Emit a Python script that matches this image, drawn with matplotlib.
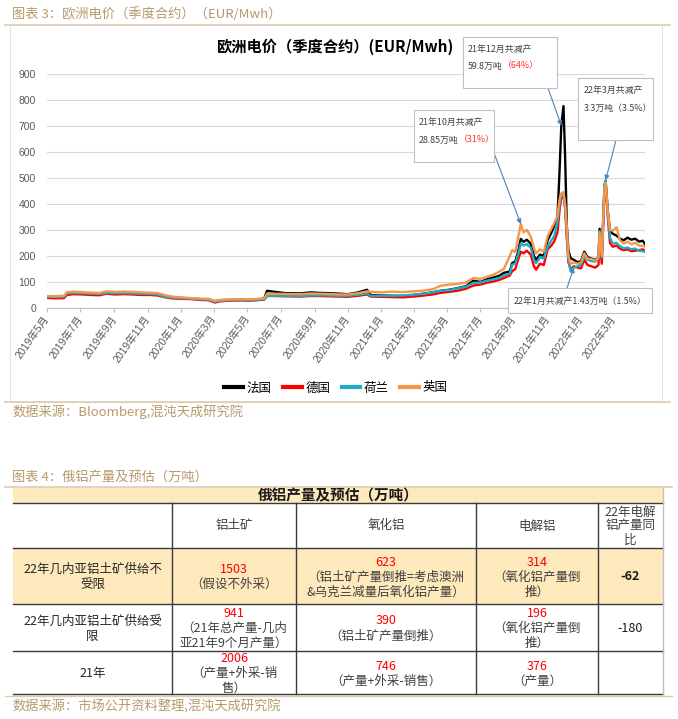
import matplotlib
matplotlib.use('Agg')
import matplotlib.pyplot as plt
import matplotlib.dates as mdates
from matplotlib.patches import Rectangle
from matplotlib.lines import Line2D
import pandas as pd

plt.rcParams['font.family'] = ['Noto Sans CJK SC', 'DejaVu Sans']

# ---------------- chart data (EUR/MWh) ----------------
dates = ['2019-05-01', '2019-05-15', '2019-06-01', '2019-06-06', '2019-06-18', '2019-07-05',
         '2019-07-20', '2019-08-05', '2019-08-18', '2019-09-01', '2019-09-18', '2019-10-05',
         '2019-10-20', '2019-11-05', '2019-11-20', '2019-12-01', '2019-12-15', '2020-01-05',
         '2020-01-20', '2020-02-05', '2020-02-20', '2020-03-03', '2020-03-13', '2020-04-01',
         '2020-04-20', '2020-05-05', '2020-05-20', '2020-06-01', '2020-06-06', '2020-06-20',
         '2020-07-10', '2020-08-06', '2020-08-25', '2020-09-10', '2020-09-28', '2020-10-15',
         '2020-11-01', '2020-11-20', '2020-12-06', '2020-12-12', '2021-01-01', '2021-01-20',
         '2021-02-10', '2021-03-01', '2021-03-20', '2021-04-05', '2021-04-19', '2021-05-05',
         '2021-05-20', '2021-06-05', '2021-06-18', '2021-07-01', '2021-07-13', '2021-07-25',
         '2021-08-05', '2021-08-13', '2021-08-24', '2021-08-28', '2021-09-03', '2021-09-08',
         '2021-09-13', '2021-09-18', '2021-09-24', '2021-10-01', '2021-10-07', '2021-10-11',
         '2021-10-18', '2021-10-25', '2021-11-01', '2021-11-08', '2021-11-13', '2021-11-19',
         '2021-11-23', '2021-11-26', '2021-11-30', '2021-12-03', '2021-12-06', '2021-12-09',
         '2021-12-13', '2021-12-19', '2021-12-26', '2022-01-01', '2022-01-07', '2022-01-13',
         '2022-01-20', '2022-01-27', '2022-02-02', '2022-02-04', '2022-02-08', '2022-02-13',
         '2022-02-15', '2022-02-19', '2022-02-23', '2022-02-28', '2022-03-07', '2022-03-13',
         '2022-03-20', '2022-03-27', '2022-04-03', '2022-04-10', '2022-04-17', '2022-04-24',
         '2022-04-28']
france = [42, 41, 42, 55, 58, 56, 54, 53, 60, 57, 58, 57, 55, 54, 52, 45, 40, 38, 37, 34, 33, 26,
          30, 31, 32, 31, 33, 36, 66, 62, 57, 56, 60, 58, 57, 55, 53, 60, 70, 50, 48, 47, 46, 50,
          55, 60, 66, 70, 76, 84, 105, 100, 110, 117, 124, 135, 140, 172, 179, 215, 265, 254, 262,
          247, 200, 185, 205, 200, 260, 290, 315, 347, 535, 700, 775, 580, 320, 222, 191, 185, 175,
          180, 216, 195, 190, 185, 195, 304, 197, 470, 488, 372, 297, 285, 278, 266, 260, 270, 262,
          266, 255, 258, 245]
germany = [39, 37, 38, 50, 53, 52, 50, 49, 55, 52, 53, 52, 50, 50, 48, 42, 37, 35, 34, 31, 30, 21,
           26, 28, 29, 28, 30, 32, 47, 46, 45, 44, 46, 46, 45, 44, 43, 47, 52, 44, 43, 42, 41, 44,
           48, 52, 58, 62, 66, 74, 86, 90, 97, 102, 108, 115, 125, 141, 150, 185, 216, 210, 220,
           205, 160, 147, 170, 165, 225, 240, 255, 290, 380, 420, 435, 380, 270, 175, 150, 160, 155,
           152, 185, 165, 160, 155, 165, 270, 170, 455, 472, 350, 250, 235, 240, 228, 222, 225, 218,
           220, 222, 225, 220]
netherlands = [43, 42, 43, 56, 58, 57, 55, 54, 58, 57, 57, 56, 55, 54, 52, 44, 40, 37, 36, 33, 32, 24,
               28, 30, 31, 30, 31, 34, 46, 47, 47, 46, 48, 49, 48, 47, 47, 51, 56, 47, 47, 47, 48, 51,
               55, 60, 66, 69, 75, 82, 96, 98, 105, 110, 116, 125, 132, 166, 170, 205, 247, 240, 245,
               232, 185, 172, 195, 190, 235, 260, 275, 330, 400, 430, 441, 390, 297, 190, 141, 155, 160,
               166, 200, 185, 180, 178, 190, 295, 195, 475, 490, 365, 270, 247, 250, 238, 229, 232, 225,
               228, 220, 218, 215]
uk = [46, 45, 47, 60, 63, 61, 59, 58, 64, 62, 63, 62, 60, 59, 57, 50, 44, 40, 38, 36, 35, 27,
      31, 33, 34, 33, 35, 37, 55, 55, 54, 53, 56, 55, 54, 52, 52, 57, 64, 62, 60, 63, 61, 64,
      67, 72, 85, 90, 92, 98, 115, 112, 120, 128, 140, 150, 200, 222, 215, 270, 322, 290, 300,
      275, 230, 210, 225, 216, 275, 305, 325, 354, 420, 440, 445, 400, 310, 200, 170, 175, 170,
      175, 210, 190, 188, 182, 195, 290, 200, 465, 480, 370, 300, 297, 310, 260, 247, 255, 245,
      250, 240, 238, 235]
series_names = ['法国', '德国', '荷兰', '英国']
series_colors = ['#000000', '#ff0000', '#1badc5', '#f79646']
tick_months = pd.date_range('2019-05-01', '2022-03-01', freq='2MS')
tick_labels = [f'{t.year}年{t.month}月' for t in tick_months]

# ---------------- table data ----------------
table_title = '俄铝产量及预估（万吨）'
col_headers = ['', '铝土矿', '氧化铝', '电解铝', '22年电解\n铝产量同\n比']
row_labels = ['22年几内亚铝土矿供给不\n受限', '22年几内亚铝土矿供给受\n限', '21年']
bauxite = ['1503', '941', '2006']
bauxite_note = ['（假设不外采）', '（21年总产量-几内\n亚21年9个月产量）', '（产量+外采-销\n售）']
alumina = ['623', '390', '746']
alumina_note = ['（铝土矿产量倒推=考虑澳洲\n&乌克兰减量后氧化铝产量）', '（铝土矿产量倒推）', '（产量+外采-销售）']
aluminium = ['314', '196', '376']
aluminium_note = ['（氧化铝产量倒\n推）', '（氧化铝产量倒\n推）', '（产量）']
yoy = ['-62', '-180', '']

# ---------------- figure ----------------
W, H = 678, 719
fig = plt.figure(figsize=(W / 100, H / 100), dpi=100)


def fx(x):
    return x / W


def fy(y):
    return 1 - y / H


TAN = '#b8996b'
RULE = '#dccbb0'
NARROW = ['Liberation Sans Narrow', 'Liberation Sans', 'Noto Sans CJK SC']

fig.text(fx(12), fy(14), '图表 3：欧洲电价（季度合约）（EUR/Mwh）', fontsize=9.5, color=TAN,
         va='center', ha='left')
fig.add_artist(Line2D([fx(5), fx(670)], [fy(24.5), fy(24.5)], color=RULE, lw=1.2))
fig.add_artist(Rectangle((fx(10), fy(402)), (662 - 10) / W, (402 - 25) / H,
                         transform=fig.transFigure, fill=False, ec='#e3e3e3', lw=0.8))
fig.add_artist(Line2D([fx(5), fx(670)], [fy(402.5), fy(402.5)], color=RULE, lw=1.2))
fig.text(fx(335), fy(47), '欧洲电价（季度合约）(EUR/Mwh)', fontsize=11, fontweight='bold',
         ha='center', va='center', color='#000000')

ax = fig.add_axes([fx(47), fy(308), (645 - 47) / W, (308 - 73.5) / H])
d = pd.to_datetime(dates)
for vals, col, lab in zip([france, germany, netherlands, uk], series_colors, series_names):
    ax.plot(d, vals, color=col, lw=1.7, label=lab, solid_joinstyle='round')
ax.set_xlim(pd.Timestamp('2019-05-01'), pd.Timestamp('2022-04-28'))
ax.set_ylim(0, 900)
ax.set_yticks(range(0, 901, 100))
ax.grid(axis='y', color='#d9d9d9', lw=0.8)
ax.set_axisbelow(True)
for s in ['top', 'right', 'left']:
    ax.spines[s].set_visible(False)
ax.spines['bottom'].set_color('#bfbfbf')
ax.tick_params(axis='y', length=0, pad=8, labelsize=7.5, labelcolor='#595959')
ax.set_xticks(tick_months)
ax.set_xticklabels(tick_labels)
ax.tick_params(axis='x', direction='out', length=3, color='#bfbfbf', pad=3,
               labelsize=7.5, labelcolor='#595959')
for lbl in ax.get_xticklabels():
    lbl.set_rotation(55)
    lbl.set_ha('right')
    lbl.set_va('center')
    lbl.set_rotation_mode('anchor')
    lbl.set_fontfamily(NARROW)
for lbl in ax.get_yticklabels():
    lbl.set_fontfamily(NARROW)

handles = [Line2D([], [], color=c, lw=3) for c in series_colors]
fig.legend(handles, series_names, loc='center', bbox_to_anchor=(fx(336), fy(388)), ncol=4,
           frameon=False, fontsize=9, handlelength=1.5, handletextpad=0.3, columnspacing=0.9)

# annotation boxes
BOXC = '#bfbfbf'
ARROWC = '#4f81bd'
boxes = [(463, 37, 557, 88), (578, 78, 653, 140), (414, 110, 494, 162), (508, 288, 652, 313)]
for x0, y0, x1, y1 in boxes:
    fig.add_artist(Rectangle((fx(x0), fy(y1)), (x1 - x0) / W, (y1 - y0) / H, transform=fig.transFigure,
                             fc='white', ec=BOXC, lw=0.8, zorder=5))

dn = mdates.date2num(d)
arrows = [((548, 88), dn[dates.index('2021-11-26')], france[dates.index('2021-11-26')]),
          ((616, 140), dn[dates.index('2022-02-15')], netherlands[dates.index('2022-02-15')]),
          ((494, 153), dn[dates.index('2021-09-13')], uk[dates.index('2021-09-13')]),
          ((567, 288), dn[dates.index('2021-12-19')], netherlands[dates.index('2021-12-19')])]
for (sx, sy), xd, yv in arrows:
    ax.annotate('', xy=(xd, yv), xycoords='data', xytext=(fx(sx), fy(sy)),
                textcoords='figure fraction', annotation_clip=False,
                arrowprops=dict(arrowstyle='-|>', color=ARROWC, lw=0.8, mutation_scale=7,
                                shrinkA=0, shrinkB=0))

ann_fs = 6.4
ann_col = '#404040'
box_texts = [
    (468, 49, '21年12月共减产', None),
    (468, 66, '59.8万吨', '（64%）'),
    (584, 90, '22年3月共减产', None),
    (584, 108, '3.3万吨（3.5%）', None),
    (419, 122, '21年10月共减产', None),
    (419, 140, '28.85万吨', '（31%）'),
    (514, 301, '22年1月共减产1.43万吨（1.5%）', None),
]
pending = []
for x, y, t, red in box_texts:
    tt = fig.text(fx(x), fy(y), t, fontsize=ann_fs, color=ann_col, ha='left', va='center', zorder=6)
    if red:
        pending.append((tt, y, red))

# ---------------- table ----------------
fig.text(fx(12), fy(477), '图表 4：俄铝产量及预估（万吨）', fontsize=9.5, color=TAN, va='center', ha='left')
fig.add_artist(Line2D([fx(5), fx(672)], [fy(486.5), fy(486.5)], color=RULE, lw=1.2))
cols = [13, 172, 296, 476, 598, 663]
rows = [488, 503, 548, 604, 651, 694]
BEIGE = '#fde9bb'
DARK = '#3a3a3a'
for (ya, yb) in [(rows[0], rows[1]), (rows[2], rows[3])]:
    fig.add_artist(Rectangle((fx(cols[0]), fy(yb)), (cols[-1] - cols[0]) / W, (yb - ya) / H,
                             transform=fig.transFigure, fc=BEIGE, ec='none', zorder=1))
for yv in rows[1:]:
    fig.add_artist(Line2D([fx(cols[0]), fx(cols[-1])], [fy(yv), fy(yv)], color=DARK, lw=1.0, zorder=2))
for xv in cols[1:-1]:
    fig.add_artist(Line2D([fx(xv), fx(xv)], [fy(rows[1]), fy(rows[-1])], color=DARK, lw=1.0, zorder=2))
fig.add_artist(Line2D([fx(cols[-1]), fx(cols[-1])], [fy(rows[0]), fy(rows[-1])], color='#bfbfbf', lw=1.0, zorder=2))
fig.add_artist(Line2D([fx(5), fx(672)], [fy(695.5), fy(695.5)], color=RULE, lw=1.0, zorder=1))

fig.text(fx((cols[0] + cols[-1]) / 2), fy(495.5), table_title, fontsize=10.5, fontweight='bold',
         ha='center', va='center', color='#1a1a1a', zorder=3)

TFS = 9
BODY = '#404040'


def cell(ci, center_y, parts, pitch=15.0):
    """parts: list of (text, color, weight); each text may contain several lines."""
    lines = []
    for t, c, w in parts:
        for ln in t.split('\n'):
            lines.append((ln, c, w))
    n = len(lines)
    xc = (cols[ci] + cols[ci + 1]) / 2
    for i, (ln, c, w) in enumerate(lines):
        yy = center_y + (i - (n - 1) / 2) * pitch
        fig.text(fx(xc), fy(yy), ln, fontsize=TFS, color=c, fontweight=w,
                 ha='center', va='center', zorder=3)


for ci, h in enumerate(col_headers):
    if h:
        cell(ci, 526, [(h, BODY, 'normal')], pitch=14)

for ri in range(3):
    yc = (rows[ri + 2] + rows[ri + 3]) / 2 + 1
    cell(0, yc, [(row_labels[ri], '#262626', 'normal')])
    cell(1, yc, [(bauxite[ri], '#ff0000', 'normal'), (bauxite_note[ri], BODY, 'normal')])
    cell(2, yc, [(alumina[ri], '#ff0000', 'normal'), (alumina_note[ri], BODY, 'normal')])
    cell(3, yc, [(aluminium[ri], '#ff0000', 'normal'), (aluminium_note[ri], BODY, 'normal')])
    if yoy[ri]:
        cell(4, yc, [(yoy[ri], '#1a1a1a', 'bold' if ri == 0 else 'normal')])

fig.text(fx(12), fy(707), '数据来源：市场公开资料整理,混沌天成研究院', fontsize=9.5, color=TAN,
         va='center', ha='left')
fig.text(fx(12), fy(412), '数据来源：Bloomberg,混沌天成研究院', fontsize=9.5, color=TAN,
         va='center', ha='left')

# red parts following black text in the annotation boxes
fig.canvas.draw()
r = fig.canvas.get_renderer()
for tt, y, red in pending:
    bb = tt.get_window_extent(renderer=r)
    fig.text(bb.x1 / fig.bbox.width, fy(y), red, fontsize=ann_fs, color='#ff3030',
             ha='left', va='center', zorder=6)

fig.savefig('out.png', dpi=100)
